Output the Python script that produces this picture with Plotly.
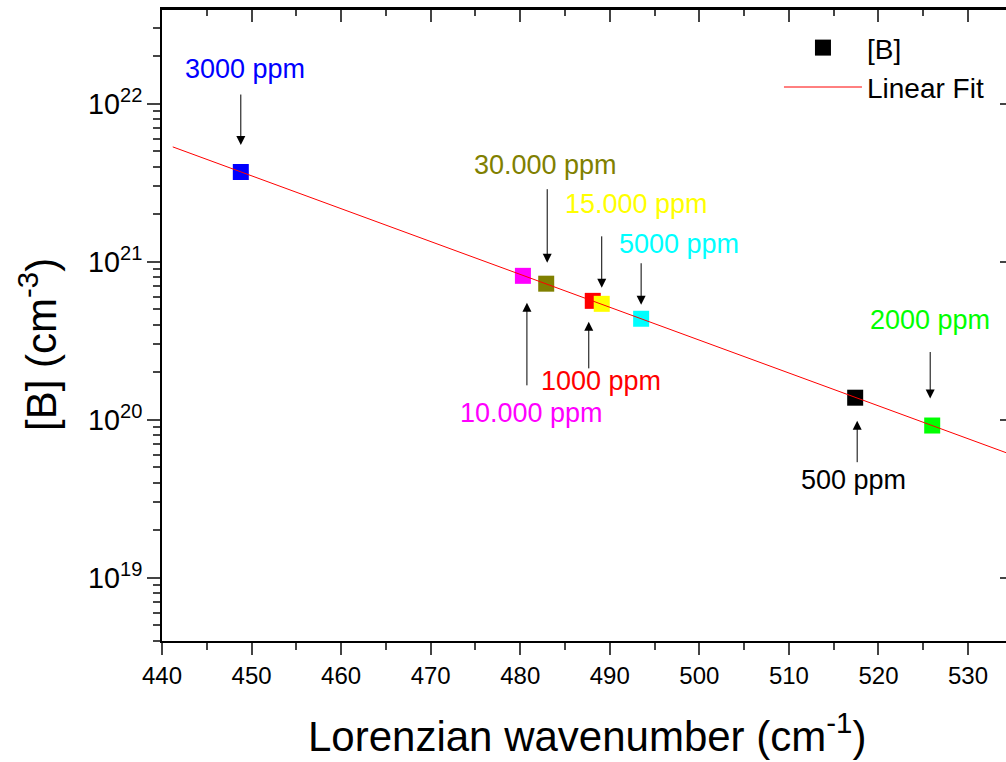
import numpy as np
import plotly.graph_objects as go

# ---------------- data ----------------
labels = ["500 ppm", "1000 ppm", "2000 ppm", "3000 ppm", "5000 ppm",
          "10.000 ppm", "15.000 ppm", "30.000 ppm"]
wavenumber = [517.4, 488.1, 526.0, 448.8, 493.5, 480.3, 489.1, 482.9]
concentration = [1.38e20, 5.66e20, 9.2e19, 3.7e21, 4.36e20, 8.15e20, 5.42e20, 7.27e20]
point_colors = ["#000000", "#FF0000", "#00FF00", "#0000FF", "#00FFFF",
                "#FF00FF", "#FFFF00", "#808000"]
fit_x_span = [441.2, 540.0]

x_ticks = [440, 450, 460, 470, 480, 490, 500, 510, 520, 530]

# -------------- annotation styling (pixel offsets) --------------
# (label xshift, label yshift, arrow ay, arrow standoff, arrow xshift)
label_style = {
    "500 ppm":    (-2, -82, 66, 23, 2),
    "1000 ppm":   (8, -80, 69, 21, -4),
    "2000 ppm":   (-2, 106, -75, 27, -2),
    "3000 ppm":   (4, 103, -79, 27, 0),
    "5000 ppm":   (38, 75, -57, 14, 0),
    "10.000 ppm": (9, -137, 111, 27, 4),
    "15.000 ppm": (35, 100, -69, 16, 0),
    "30.000 ppm": (-1, 119, -96, 21, 1),
}

FONT = "Liberation Sans, Arial, sans-serif"

# linear fit in log space
coef = np.polyfit(wavenumber, np.log10(concentration), 1)
fit_x = np.array(fit_x_span)
fit_y = 10 ** np.polyval(coef, fit_x)

fig = go.Figure()
fig.add_trace(go.Scatter(
    x=wavenumber, y=concentration, mode="markers", name="[B]",
    marker=dict(symbol="square", size=16, color=point_colors, line=dict(width=0)),
))
fig.add_trace(go.Scatter(
    x=fit_x, y=fit_y, mode="lines", name="Linear Fit",
    line=dict(color="#FF0000", width=1),
))
# invisible helper trace so the top / right frame axes are drawn
fig.add_trace(go.Scatter(x=[wavenumber[0]], y=[concentration[0]], xaxis="x2", yaxis="y2",
                         mode="markers", marker=dict(opacity=0), showlegend=False,
                         hoverinfo="skip"))

annotations = []
for lab, wx, cy, col in zip(labels, wavenumber, concentration, point_colors):
    lxs, lys, ay, so, axs = label_style[lab]
    ly = np.log10(cy)
    annotations.append(dict(
        x=wx, y=ly, xref="x", yref="y", text="", showarrow=True,
        ax=0, ay=ay, standoff=so, xshift=axs,
        arrowhead=2, arrowsize=1.8, arrowwidth=1, arrowcolor="black",
    ))
    annotations.append(dict(
        x=wx, y=ly, xref="x", yref="y", text=lab, showarrow=False,
        xshift=lxs, yshift=lys, xanchor="center", yanchor="middle",
        font=dict(family=FONT, size=27, color=col),
    ))

# axis titles
annotations.append(dict(
    x=0.5036, y=-0.1456, xref="paper", yref="paper", showarrow=False,
    text="Lorenzian wavenumber (cm<sup>-1</sup>)", xanchor="center", yanchor="middle",
    font=dict(family=FONT, size=42, color="black"),
))
annotations.append(dict(
    x=-0.1469, y=0.4684, xref="paper", yref="paper", showarrow=False,
    text="[B] (cm<sup>-3</sup>)", textangle=-90, xanchor="center", yanchor="middle",
    font=dict(family=FONT, size=42, color="black"),
))

xr = [440, 534.24]
yr = [18.6, 22.6]

fig.update_layout(
    width=1006, height=762,
    margin=dict(l=162, r=0, t=9, b=121, pad=0, autoexpand=False),
    paper_bgcolor="white", plot_bgcolor="white",
    font=dict(family=FONT, color="black"),
    showlegend=True,
    legend=dict(x=0.731, y=0.978, xanchor="left", yanchor="top",
                bgcolor="rgba(0,0,0,0)", font=dict(family=FONT, size=28),
                itemwidth=78, tracegroupgap=0),
    xaxis=dict(range=xr, tickvals=x_ticks, ticks="outside", ticklen=12, tickwidth=2,
               showline=True, mirror=True, linewidth=2, linecolor="black",
               showgrid=False, zeroline=False,
               tickfont=dict(family=FONT, size=24),
               minor=dict(dtick=5, tick0=440, ticks="outside", ticklen=7, tickwidth=2, showgrid=False)),
    yaxis=dict(type="log", range=yr, dtick=1, exponentformat="power", ticks="outside",
               ticklen=13, tickwidth=2, showline=True, linewidth=2, linecolor="black",
               showgrid=False, zeroline=False, tickfont=dict(family=FONT, size=23),
               minor=dict(dtick="D1", ticks="outside", ticklen=7, tickwidth=2, showgrid=False)),
    xaxis2=dict(overlaying="x", side="top", anchor="y2", range=xr, tick0=440, dtick=10,
                ticks="inside", ticklen=13, tickwidth=2, showticklabels=False,
                showline=True, linewidth=2, linecolor="black", showgrid=False, zeroline=False,
                minor=dict(dtick=5, tick0=440, ticks="inside", ticklen=7, tickwidth=2, showgrid=False)),
    yaxis2=dict(overlaying="y", side="right", anchor="x2", type="log", range=yr, dtick=1,
                ticks="inside", ticklen=6, tickwidth=2, showticklabels=False,
                showline=False, showgrid=False, zeroline=False),
    shapes=[dict(type="line", xref="paper", yref="paper", x0=0, x1=1, y0=1, y1=1,
                 line=dict(color="black", width=2), layer="above")],
    annotations=annotations,
)

fig.write_html("out.html", config={"displayModeBar": False},
               post_script="document.body.style.margin='0';")
